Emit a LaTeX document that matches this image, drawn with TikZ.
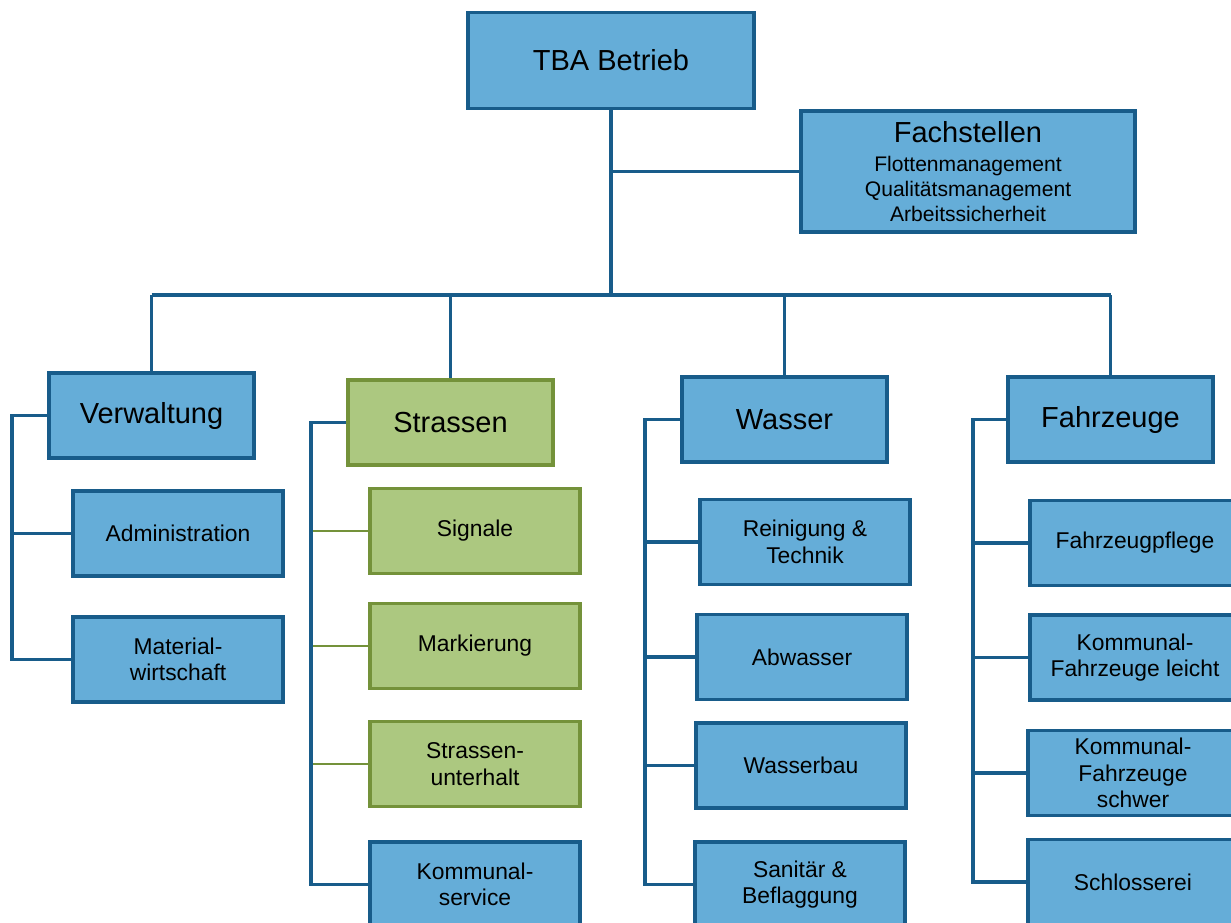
\documentclass[tikz,border=0pt]{standalone}
\usepackage{fontspec}
\setmainfont{Liberation Sans}
\usepackage{tikz}
\usetikzlibrary{calc}

\definecolor{boxblau}{RGB}{101,173,216}
\definecolor{randblau}{RGB}{24,92,138}
\definecolor{boxgruen}{RGB}{172,200,128}
\definecolor{randgruen}{RGB}{116,146,58}

\begin{document}
\begin{tikzpicture}[x=0.02cm,y=-0.02cm,
		blau/.style={draw=randblau,fill=boxblau,line width=2.1pt,inner sep=0pt,align=center},
		gruen/.style={draw=randgruen,fill=boxgruen,line width=2.1pt,inner sep=0pt,align=center},
		haupt/.style={minimum width=4.1cm,minimum height=1.7cm,font=\fontsize{16.5}{19}\selectfont},
		teil/.style={minimum width=4.2cm,minimum height=1.7cm,font=\fontsize{13}{15}\selectfont},
		linie/.style={draw=randblau,line width=2.1pt},
		glinie/.style={draw=randgruen,line width=1.6pt}]
			\useasboundingbox (0,0) rectangle (1231,923);
			\fill[white] (0,0) rectangle (1231,923);
			\clip (0,0) rectangle (1231,923);
			% oberste Ebene
			\node[blau,minimum width=5.72cm,minimum height=1.92cm,font=\fontsize{16.5}{19}\selectfont] (tba) at (611,60.5) {TBA Betrieb};
			\node[blau,minimum width=6.68cm,minimum height=2.42cm,font=\fontsize{12}{14.2}\selectfont] (fach) at (968,171.5)
				{{\fontsize{16.5}{19}\selectfont Fachstellen}\\[2.2pt]
				Flottenmanagement\\Qualitätsmanagement\\Arbeitssicherheit};
			% Abteilungen
			\node[blau,haupt] (verw) at (151.5,415.5) {Verwaltung};
			\node[gruen,haupt] (str) at (450.5,422.5) {Strassen};
			\node[blau,haupt] (was) at (784.5,419.5) {Wasser};
			\node[blau,haupt] (fz) at (1110.5,419.5) {Fahrzeuge};
			% Verwaltung
			\node[blau,teil] (adm) at (178,533.5) {Administration};
			\node[blau,teil] (mat) at (178,659.5) {Material-\\wirtschaft};
			% Strassen
			\node[gruen,teil] (sig) at (475,531) {Signale};
			\node[gruen,teil] (mark) at (475,646) {Markierung};
			\node[gruen,teil] (unt) at (475,764) {Strassen-\\unterhalt};
			\node[blau,teil] (kom) at (475,884.5) {Kommunal-\\service};
			% Wasser
			\node[blau,teil] (rein) at (805,542) {Reinigung \&\\Technik};
			\node[blau,teil] (abw) at (802,657) {Abwasser};
			\node[blau,teil] (wb) at (801,765.5) {Wasserbau};
			\node[blau,teil] (san) at (800,884.5) {Sanitär \&\\Beflaggung};
			% Fahrzeuge
			\node[blau,teil] (pfl) at (1135,543) {Fahrzeugpflege};
			\node[blau,teil] (leicht) at (1135,657.5) {Kommunal-\\Fahrzeuge leicht};
			\node[blau,teil] (schwer) at (1133,773) {Kommunal-\\Fahrzeuge\\schwer};
			\node[blau,teil] (schl) at (1133,882) {Schlosserei};
			% Linien
			\coordinate (busL) at (151.5,295);
			\coordinate (busR) at (1110.5,295);
			\coordinate (vsp) at (12,0);
			\coordinate (ssp) at (311,0);
			\coordinate (wsp) at (645,0);
			\coordinate (fsp) at (973,0);
			\draw[linie] (tba) -- (tba |- busL);
			\draw[linie] (tba |- fach) -- (fach);
			\draw[linie] (busL) -- (busR);
			\foreach \n in {verw,str,was,fz}
				\draw[linie] (\n) -- (\n |- busL);
			\draw[linie] (verw.west) -- (vsp |- verw) -- (vsp |- mat) -- (mat);
			\draw[linie] (vsp |- adm) -- (adm);
			\draw[glinie] (ssp |- sig) -- (sig);
			\draw[glinie] (ssp |- mark) -- (mark);
			\draw[glinie] (ssp |- unt) -- (unt);
			\draw[linie] (str.west) -- (ssp |- str) -- (ssp |- kom) -- (kom);
			\draw[linie] (was.west) -- (wsp |- was) -- (wsp |- san) -- (san);
			\foreach \n in {rein,abw,wb}
				\draw[linie] (wsp |- \n) -- (\n);
			\draw[linie] (fz.west) -- (fsp |- fz) -- (fsp |- schl) -- (schl);
			\foreach \n in {pfl,leicht,schwer}
				\draw[linie] (fsp |- \n) -- (\n);
		\end{tikzpicture}
\end{document}
